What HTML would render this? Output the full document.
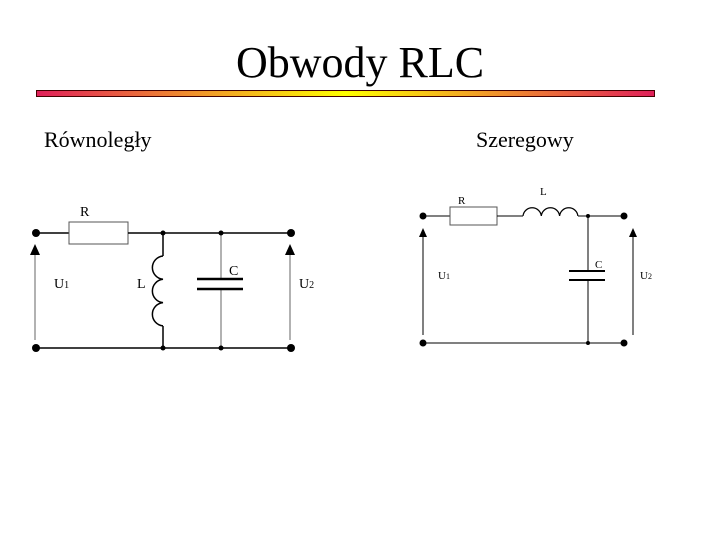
<!DOCTYPE html>
<html><head><style>body{margin:0;background:#fff}</style></head><body>
<svg width="720" height="540" xmlns="http://www.w3.org/2000/svg" font-family="Liberation Serif, serif">
<defs><linearGradient id="g" x1="0" x2="1"><stop offset="0" stop-color="#e0205a"/><stop offset="0.5" stop-color="#ffff00"/><stop offset="1" stop-color="#e0205a"/></linearGradient></defs>
<text x="360" y="77" font-size="44" text-anchor="middle">Obwody RLC</text>
<rect x="36.5" y="90.5" width="618" height="6" fill="url(#g)" stroke="#400" stroke-width="1"/>
<text x="44" y="147" font-size="22">Równoległy</text>
<text x="476" y="147" font-size="22">Szeregowy</text>
<g stroke="#000" stroke-width="1.5" fill="none">
<!-- left circuit -->
<line x1="36" y1="233" x2="69" y2="233"/>
<rect x="69" y="222" width="59" height="22" stroke="#555" stroke-width="1"/>
<line x1="128" y1="233" x2="291" y2="233"/>
<line x1="36" y1="348" x2="291" y2="348"/>
<line x1="163" y1="233" x2="163" y2="256"/>
<path d="M163 256 a11.7 11.7 0 0 0 0 23.3 a11.7 11.7 0 0 0 0 23.3 a11.7 11.7 0 0 0 0 23.3"/>
<line x1="163" y1="326" x2="163" y2="348"/>
<line x1="221" y1="233" x2="221" y2="279" stroke="#999"/>
<line x1="221" y1="289" x2="221" y2="348" stroke="#999"/>
<line x1="197" y1="279" x2="243" y2="279" stroke-width="2.5"/>
<line x1="197" y1="289" x2="243" y2="289" stroke-width="2.5"/>
<line x1="35" y1="340" x2="35" y2="252" stroke="#999"/>
<line x1="290" y1="340" x2="290" y2="252" stroke="#999"/>
<!-- right circuit -->
<line x1="423" y1="216" x2="450" y2="216" stroke-width="1"/>
<rect x="450" y="207" width="47" height="18" stroke="#555" stroke-width="1"/>
<line x1="497" y1="216" x2="523" y2="216" stroke-width="1"/>
<path d="M523 216 a9.2 9.2 0 0 1 18.3 0 a9.2 9.2 0 0 1 18.3 0 a9.2 9.2 0 0 1 18.3 0" stroke-width="1.2"/>
<line x1="578" y1="216" x2="624" y2="216" stroke-width="1"/>
<line x1="423" y1="343" x2="624" y2="343" stroke-width="1"/>
<line x1="588" y1="216" x2="588" y2="271" stroke-width="1"/>
<line x1="588" y1="280" x2="588" y2="343" stroke-width="1"/>
<line x1="569" y1="271" x2="605" y2="271" stroke-width="2"/>
<line x1="569" y1="280" x2="605" y2="280" stroke-width="2"/>
<line x1="423" y1="335" x2="423" y2="235" stroke-width="1"/>
<line x1="633" y1="335" x2="633" y2="235" stroke-width="1"/>
</g>
<g fill="#000">
<circle cx="36" cy="233" r="4"/><circle cx="291" cy="233" r="4"/><circle cx="36" cy="348" r="4"/><circle cx="291" cy="348" r="4"/>
<circle cx="163" cy="233" r="2.5"/><circle cx="221" cy="233" r="2.5"/><circle cx="163" cy="348" r="2.5"/><circle cx="221" cy="348" r="2.5"/>
<polygon points="35,244 30,255 40,255"/><polygon points="290,244 285,255 295,255"/>
<circle cx="423" cy="216" r="3.5"/><circle cx="624" cy="216" r="3.5"/><circle cx="423" cy="343" r="3.5"/><circle cx="624" cy="343" r="3.5"/>
<circle cx="588" cy="216" r="2"/><circle cx="588" cy="343" r="2"/>
<polygon points="423,228 419,237 427,237"/><polygon points="633,228 629,237 637,237"/>
</g>
<g font-size="14">
<text x="80" y="216">R</text><text x="54" y="288">U<tspan font-size="10">1</tspan></text>
<text x="137" y="288">L</text><text x="229" y="275">C</text><text x="299" y="288">U<tspan font-size="10">2</tspan></text>
</g>
<g font-size="11">
<text x="458" y="204">R</text><text x="540" y="195">L</text><text x="595" y="268">C</text>
<text x="438" y="279">U<tspan font-size="8">1</tspan></text><text x="640" y="279">U<tspan font-size="8">2</tspan></text>
</g>
</svg>
</body></html>
